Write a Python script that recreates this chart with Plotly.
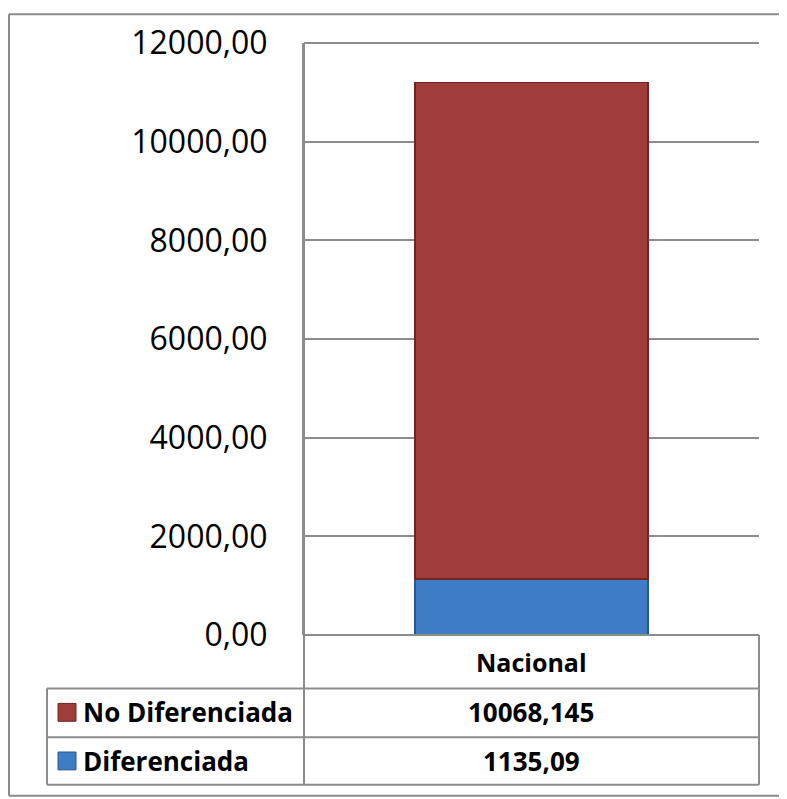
import plotly.graph_objects as go

# ---- data ----
categories = ["Nacional"]
series_names = ["Diferenciada", "No Diferenciada"]
diferenciada = [1135.09]
no_diferenciada = [10068.145]
table_rows = ["No Diferenciada", "Diferenciada"]
table_values = ["10068,145", "1135,09"]
y_tick_vals = [0, 2000, 4000, 6000, 8000, 10000, 12000]
y_tick_text = ["0,00", "2000,00", "4000,00", "6000,00", "8000,00", "10000,00", "12000,00"]

# ---- geometry (screen pixels; page body has an 8px margin) ----
OFF = 8
W, H = 787 - OFF, 799 - OFF
L, R, T, B = 304 - OFF, 759 - OFF, 38 - OFF, 635 - OFF


def px(x):
    return (x - OFF - L) / (R - L)


def py(y):
    return (B - (y - OFF)) / (B - T)


RED = "#A03D3B"
RED_D = "#6E2624"
BLUE = "#3F7CC6"
BLUE_D = "#2B568C"
GRID = "#8C8C8C"
FONT = "Open Sans"

fig = go.Figure()
fig.add_trace(go.Bar(x=categories, y=diferenciada, name=series_names[0], width=0.512,
                     marker=dict(color=BLUE, line=dict(color=BLUE_D, width=1.5))))
fig.add_trace(go.Bar(x=categories, y=no_diferenciada, name=series_names[1], width=0.512,
                     marker=dict(color=RED, line=dict(color=RED_D, width=1.5))))

shapes = []


def line(x0, y0, x1, y1, color=GRID, width=2, layer="above"):
    shapes.append(dict(type="line", xref="paper", yref="paper", layer=layer,
                       x0=px(x0), y0=py(y0), x1=px(x1), y1=py(y1),
                       line=dict(color=color, width=width)))


# outer frame (as close to the page edge as the figure allows)
line(9, 9, 787, 9, "#8A8A8A", 2)
line(9, 9, 9, 797, "#8A8A8A", 2)
line(9, 797, 787, 797, "#8A8A8A", 2)
# top gridline of the plot area
line(304, 38, 759, 38, layer="below")
# axis / table lines
line(304, 38, 304, 786)
line(759, 635, 759, 786)
line(304, 635, 759, 635)
line(47, 689, 759, 689)
line(47, 738, 759, 738)
line(47, 786, 759, 786)
line(47, 689, 47, 786)

# legend keys
for (cy, col, dcol) in [(713, RED, RED_D), (762, BLUE, BLUE_D)]:
    shapes.append(dict(type="rect", xref="paper", yref="paper",
                       x0=px(58), x1=px(76), y0=py(cy - 9), y1=py(cy + 9),
                       fillcolor=col, line=dict(color=dcol, width=1)))

annotations = [
    dict(x=px(531), y=py(662), xref="paper", yref="paper", text="<b>Nacional</b>",
         showarrow=False, font=dict(family=FONT, size=25, color="black"),
         xanchor="center", yanchor="middle"),
]
for i, (lab, val) in enumerate(zip(table_rows, table_values)):
    cy = [713, 762][i]
    annotations.append(dict(x=px(81), y=py(cy), xref="paper", yref="paper",
                            text="<b>" + lab + "</b>", showarrow=False,
                            font=dict(family=FONT, size=26, color="black"),
                            xanchor="left", yanchor="middle"))
    annotations.append(dict(x=px(531), y=py(cy), xref="paper", yref="paper",
                            text="<b>" + val + "</b>", showarrow=False,
                            font=dict(family=FONT, size=26, color="black"),
                            xanchor="center", yanchor="middle"))

fig.update_layout(
    width=W, height=H, autosize=False,
    margin=dict(l=L, r=W - R, t=T, b=H - B, pad=0),
    barmode="stack", showlegend=False,
    plot_bgcolor="white", paper_bgcolor="white",
    shapes=shapes, annotations=annotations,
    xaxis=dict(range=[-0.5, 0.5], showticklabels=False, showgrid=False,
               zeroline=False, showline=False, ticks=""),
    yaxis=dict(range=[0, 12000], tickvals=y_tick_vals, ticktext=y_tick_text,
               showgrid=True, gridcolor=GRID, gridwidth=2, zeroline=False,
               showline=True, linecolor=GRID, linewidth=2, ticks="",
               ticklabelstandoff=28,
               tickfont=dict(family=FONT, size=32, color="black")),
    font=dict(family=FONT),
)

fig.write_html("out.html")
